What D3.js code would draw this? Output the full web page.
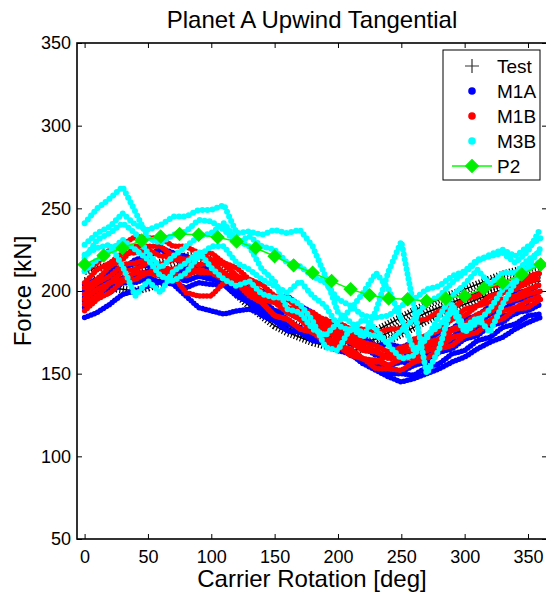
<!DOCTYPE html>
<html>
<head>
<meta charset="utf-8">
<script src="https://cdn.jsdelivr.net/npm/d3@7"></script>
<style>
body { margin: 0; background: #fff; }
svg { font-family: "Liberation Sans", Arial, sans-serif; }
</style>
</head>
<body>
<svg id="vis" width="546" height="593"></svg>
<script>
// carrier rotation [deg] shared by all measured / model runs
var angles = [0,10,20,30,40,50,60,70,80,90,100,110,120,130,140,150,160,170,180,190,200,210,220,230,240,250,260,270,280,290,300,310,320,330,340,350,360];

// Test (black +)
var testRuns = [
    [212,214,215,214,213,215,217,219,221,222,220,215,208,201,194,187,182,178,175,173,172,172,173,176,180,184,188,192,195,198,201,204,207,210,212,214,215],
    [206,207,208,207,206,208,211,214,216,217,215,210,203,196,189,183,178,175,172,170,169,168,169,171,175,179,183,187,190,193,196,199,202,205,207,209,210],
    [200,201,202,201,200,202,205,208,210,211,210,205,198,191,185,179,175,172,169,167,165,164,165,167,170,174,178,182,186,189,192,195,198,201,203,205,206]
];

// M1A (blue)
var m1aRuns = [
    [184,187,192,198,200,203,206,204,197,190,188,186,188,189,186,184,181,176,173,170,165,162,156,152,148,145,147,150,153,157,160,165,169,172,177,181,184],
    [196,203,207,213,218,221,225,221,215,213,209,206,200,197,190,187,183,177,175,169,167,161,159,154,154,151,155,157,163,165,171,173,179,181,187,188,192],
    [204,207,213,214,217,215,215,211,213,212,213,207,204,197,194,188,187,183,182,177,176,171,171,167,168,166,169,170,175,177,183,185,191,193,199,200,204],
    [190,196,199,205,205,208,205,205,202,205,204,204,197,193,185,182,176,175,170,169,164,163,158,158,155,157,156,161,163,169,171,177,179,185,186,191,192],
    [200,204,211,213,219,221,226,223,221,215,214,209,207,201,200,196,197,191,187,179,175,168,166,161,161,159,163,164,170,172,178,180,186,188,194,196,200],
    [194,199,202,208,209,212,209,209,206,209,207,206,199,196,189,186,180,178,172,170,164,162,156,155,150,150,149,154,156,162,164,170,172,178,180,185,186]
];

// M1B (red)
var m1bRuns = [
    [212,217,225,228,233,232,232,227,227,223,223,217,214,207,204,197,195,189,187,182,181,177,177,174,177,177,182,183,188,189,195,197,203,204,207,209,211],
    [205,213,217,223,223,225,221,221,219,222,219,217,209,205,197,193,187,185,179,177,171,169,164,163,160,163,164,169,171,177,180,186,189,195,197,201,204],
    [198,205,209,216,217,219,213,209,199,197,197,205,207,207,199,195,187,183,175,173,167,165,159,158,155,159,161,167,169,176,179,185,187,193,195,198,200],
    [192,197,205,207,211,211,214,213,217,216,217,211,207,198,193,185,183,177,176,171,169,162,159,153,153,152,157,159,165,167,173,175,181,183,189,190,195],
    [188,195,199,206,207,211,209,210,209,213,211,211,204,201,195,193,189,189,184,183,177,175,169,167,163,166,167,173,176,183,185,191,193,199,201,205,208],
    [202,207,215,219,227,227,227,221,217,211,211,207,205,197,193,185,183,177,175,169,167,161,159,157,161,163,171,173,179,183,189,191,197,199,205,207,211],
    [195,201,205,212,213,217,216,219,218,221,218,216,209,206,199,196,190,188,182,180,174,172,166,164,159,160,159,164,166,172,174,180,182,188,190,194,197]
];

// M3B (cyan)
var m3bRuns = [
    [241,250,256,263,248,232,229,234,236,243,242,237,229,233,227,225,217,215,209,205,195,191,185,184,185,191,195,201,203,209,212,219,221,223,217,224,238],
    [228,235,239,247,240,237,240,245,245,249,249,252,235,236,234,237,235,237,227,209,187,181,174,173,169,176,183,193,197,205,211,218,222,225,221,227,232],
    [222,226,228,215,197,206,199,212,217,224,214,207,203,206,198,196,196,192,182,166,164,178,172,188,212,230,190,150,165,192,178,184,175,192,205,215,226],
    [220,231,235,241,235,223,214,221,227,233,235,241,231,227,213,206,189,187,177,173,181,189,199,211,201,183,164,171,185,197,204,213,204,211,211,219,224],
    [212,219,224,231,225,219,209,206,211,221,227,227,217,213,207,203,199,206,197,191,179,176,183,177,167,159,161,173,179,189,175,181,189,201,207,213,218]
];

// P2 (green diamonds)
var p2Angles = [0,15,30,45,60,75,90,105,120,135,150,165,180,195,210,225,240,255,270,285,300,315,330,345,360];
var p2Values = [216,221.5,226,230.5,233,234.5,234,232.5,230,226,221,215.5,211,206,201,197.5,195.5,195,194,195.5,197,201.5,205,210,216];

var xTicks = [0,50,100,150,200,250,300,350];
var yTicks = [50,100,150,200,250,300,350];
var legendNames = ['Test','M1A','M1B','M3B','P2'];

var svg = d3.select('#vis');

// plot box (window.top is reserved, so no bare "top")
var box = {left: 77, right: 547, top: 43, bottom: 539};

var x = d3.scaleLinear().domain([-6, 365]).range([box.left, box.right]);
var y = d3.scaleLinear().domain([50, 350]).range([box.bottom, box.top]);

svg.append('defs').append('clipPath')
    .attr('id', 'clip')
    .append('rect')
    .attr('x', box.left)
    .attr('y', box.top)
    .attr('width', box.right - box.left)
    .attr('height', box.bottom - box.top);

var plot = svg.append('g').attr('clip-path', 'url(#clip)');

var runLine = d3.line()
    .x(function(d, i){ return x(angles[i]); })
    .y(function(d){ return y(d); });

// test: dense + markers -> comb texture plus thin centre line
testRuns.forEach(function(run){
    plot.append('path')
        .attr('d', runLine(run))
        .attr('fill', 'none')
        .attr('stroke', '#000')
        .attr('stroke-width', 8)
        .attr('stroke-dasharray', '1.2,2');
    plot.append('path')
        .attr('d', runLine(run))
        .attr('fill', 'none')
        .attr('stroke', '#000')
        .attr('stroke-width', 1.5);
});

// dot series: round-capped zero-length dashes look like the dense '.' markers
function drawDots(runs, color, gap, width) {
    runs.forEach(function(run){
        plot.append('path')
            .attr('d', runLine(run))
            .attr('fill', 'none')
            .attr('stroke', color)
            .attr('stroke-width', width)
            .attr('stroke-linecap', 'round')
            .attr('stroke-dasharray', '0,' + gap);
    });
}

drawDots(m1aRuns, '#0000ff', 3.5, 5.5);
drawDots(m1bRuns, '#ff0000', 3.5, 5.5);
drawDots(m3bRuns, '#00ffff', 5, 6);

var p2Line = d3.line()
    .x(function(d, i){ return x(p2Angles[i]); })
    .y(function(d){ return y(d); });

plot.append('path')
    .attr('d', p2Line(p2Values))
    .attr('fill', 'none')
    .attr('stroke', '#00ff00')
    .attr('stroke-width', 1.5);

var diamond = d3.symbol().type(d3.symbolSquare).size(85);

plot.selectAll('.p2-mark')
    .data(p2Values)
    .enter()
    .append('path')
    .attr('class', 'p2-mark')
    .attr('d', diamond)
    .attr('transform', function(d, i){
        return 'translate(' + x(p2Angles[i]) + ',' + y(d) + ') rotate(45)';
    })
    .attr('fill', '#00ee00')
    .attr('stroke', '#00ee00');

// axes, MATLAB style inward ticks on all four sides
function styleAxis(g) {
    g.select('.domain').remove();
    g.selectAll('.tick line').attr('stroke', '#000').attr('stroke-width', 1);
    g.attr('font-size', 18).attr('font-family', '"Liberation Sans", Arial, sans-serif');
    g.selectAll('text').attr('fill', '#000');
}

svg.append('g')
    .attr('transform', 'translate(0,' + box.bottom + ')')
    .call(d3.axisBottom(x).tickValues(xTicks).tickSizeInner(-5).tickSizeOuter(0).tickPadding(11))
    .call(styleAxis);

svg.append('g')
    .attr('transform', 'translate(0,' + box.top + ')')
    .call(d3.axisTop(x).tickValues(xTicks).tickSizeInner(-5).tickSizeOuter(0).tickFormat(''))
    .call(styleAxis);

svg.append('g')
    .attr('transform', 'translate(' + box.left + ',0)')
    .call(d3.axisLeft(y).tickValues(yTicks).tickSizeInner(-5).tickSizeOuter(0).tickPadding(6))
    .call(styleAxis);

svg.append('g')
    .attr('transform', 'translate(' + box.right + ',0)')
    .call(d3.axisRight(y).tickValues(yTicks).tickSizeInner(-5).tickSizeOuter(0).tickFormat(''))
    .call(styleAxis);

svg.append('rect')
    .attr('x', box.left)
    .attr('y', box.top)
    .attr('width', box.right - box.left)
    .attr('height', box.bottom - box.top)
    .attr('fill', 'none')
    .attr('stroke', '#000')
    .attr('stroke-width', 1.6);

// titles
svg.append('text')
    .attr('x', (box.left + box.right) / 2)
    .attr('y', 28)
    .attr('text-anchor', 'middle')
    .attr('font-size', 24)
    .text('Planet A Upwind Tangential');

svg.append('text')
    .attr('x', (box.left + box.right) / 2)
    .attr('y', 587)
    .attr('text-anchor', 'middle')
    .attr('font-size', 24)
    .text('Carrier Rotation [deg]');

svg.append('text')
    .attr('transform', 'translate(31,' + ((box.top + box.bottom) / 2) + ') rotate(-90)')
    .attr('text-anchor', 'middle')
    .attr('font-size', 24)
    .text('Force [kN]');

// legend
var legend = svg.append('g').attr('transform', 'translate(443,50)');

legend.append('rect')
    .attr('width', 97)
    .attr('height', 130)
    .attr('fill', '#fff')
    .attr('stroke', '#000')
    .attr('stroke-width', 1);

var rows = legend.selectAll('.legend-row')
    .data(legendNames)
    .enter()
    .append('g')
    .attr('class', 'legend-row')
    .attr('transform', function(d, i){ return 'translate(0,' + (16 + i * 25) + ')'; });

rows.append('text')
    .attr('x', 54)
    .attr('dy', '0.35em')
    .attr('font-size', 19)
    .text(function(d){ return d; });

var mx = 29;

rows.filter(function(d){ return d === 'Test'; })
    .append('path')
    .attr('d', 'M' + (mx - 7) + ',0H' + (mx + 7) + 'M' + mx + ',-7V7')
    .attr('stroke', '#333')
    .attr('stroke-width', 1.2);

var dotColors = {M1A: '#0000ff', M1B: '#ff0000', M3B: '#00ffff'};

rows.filter(function(d){ return dotColors[d]; })
    .append('circle')
    .attr('cx', mx)
    .attr('r', 3.8)
    .attr('fill', function(d){ return dotColors[d]; });

var p2Row = rows.filter(function(d){ return d === 'P2'; });
p2Row.append('line')
    .attr('x1', 9)
    .attr('x2', 49)
    .attr('stroke', '#00ff00')
    .attr('stroke-width', 1.5);
p2Row.append('path')
    .attr('d', diamond)
    .attr('transform', 'translate(' + mx + ',0) rotate(45)')
    .attr('fill', '#00ee00')
    .attr('stroke', '#00ee00');
</script>
</body>
</html>
